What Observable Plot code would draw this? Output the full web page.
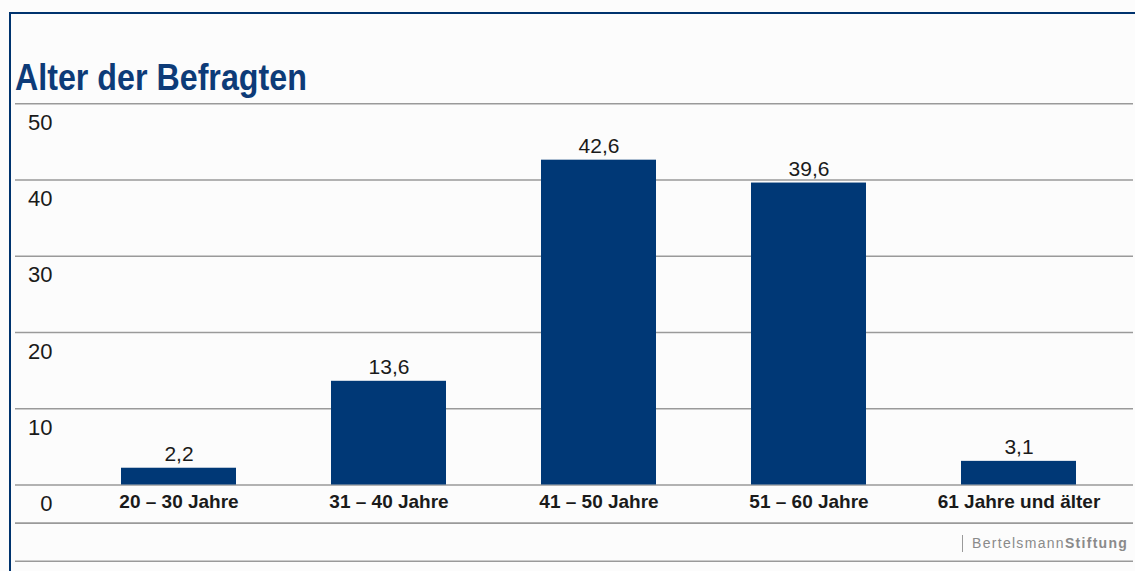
<!DOCTYPE html>
<html>
<head>
<meta charset="utf-8">
<script src="https://cdn.jsdelivr.net/npm/d3@7"></script>
<script src="https://cdn.jsdelivr.net/npm/@observablehq/plot@0.6"></script>
<style>
  html, body { margin: 0; padding: 0; background: #fcfcfc; }
  #page { position: relative; width: 1135px; height: 571px; overflow: hidden; background: #fcfcfc; font-family: "Liberation Sans", Arial, sans-serif; }
  #frame { position: absolute; left: 9px; top: 12px; width: 1140px; height: 600px; border-top: 2px solid #00336e; border-left: 2px solid #00336e; }
  #chart { position: absolute; left: 0; top: 0; }
  #title { position: absolute; left: 15px; top: 60px; font-family: "Liberation Sans", Arial, sans-serif; font-weight: bold; font-size: 36px; line-height: 36px; color: #0d3b78; white-space: nowrap; transform: scaleX(0.895); transform-origin: 0 0; }
  #footer { position: absolute; left: 962px; top: 535px; height: 17px; border-left: 1px solid #9a9a9a; padding-left: 9px; font-size: 14px; line-height: 17px; letter-spacing: 1.3px; color: #8a8a8a; white-space: nowrap; }
  #footer b { font-weight: bold; }
</style>
</head>
<body>
<div id="page">
  <div id="frame"></div>
  <div id="chart"></div>
  <div id="title">Alter der Befragten</div>
  <div id="footer">Bertelsmann<b>Stiftung</b></div>
</div>
<script>
const categories = ["20 – 30 Jahre", "31 – 40 Jahre", "41 – 50 Jahre", "51 – 60 Jahre", "61 Jahre und älter"];
const values = [2.2, 13.6, 42.6, 39.6, 3.1];
const yTicks = [0, 10, 20, 30, 40, 50];
const gridLines = [50, 40, 30, 20, 10, 0, -5, -10];

const data = categories.map((c, i) => ({category: c, value: values[i]}));
const fmt = v => v.toFixed(1).replace(".", ",");

const chart = Plot.plot({
  width: 1135,
  height: 571,
  marginTop: 103.25,
  marginBottom: 86.5,
  marginLeft: 15,
  marginRight: 2,
  style: {background: "transparent", fontFamily: "'Liberation Sans', Arial, sans-serif", color: "#1a1a1a"},
  x: {domain: categories, range: [72, 1125], paddingInner: 0.454, paddingOuter: 0.227, label: null},
  y: {domain: [0, 50], label: null},
  marks: [
    Plot.ruleY(gridLines, {stroke: "#9a9a9a", strokeWidth: 1.6}),
    Plot.barY(data, {x: "category", y: "value", fill: "#003876"}),
    Plot.text(data, {x: "category", y: "value", text: d => fmt(d.value), lineAnchor: "bottom", dy: -7, fontSize: 21, fill: "#1a1a1a"}),
    Plot.axisY(yTicks, {anchor: "left", tickSize: 0, tickPadding: 0, dx: 37, dy: 19, textAnchor: "end", fontSize: 22, fill: "#1a1a1a", label: null}),
    Plot.axisX({anchor: "bottom", tickSize: 0, tickPadding: 9, fontSize: 19, fontWeight: "bold", fill: "#1a1a1a", label: null})
  ]
});
document.getElementById("chart").appendChild(chart);
</script>
</body>
</html>
